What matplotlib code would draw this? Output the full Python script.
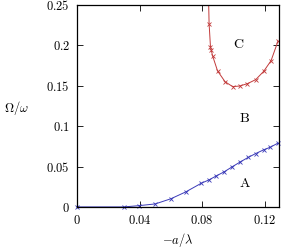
import matplotlib
matplotlib.use('Agg')
import matplotlib.pyplot as plt

plt.rcParams['mathtext.fontset'] = 'cm'
plt.rcParams['font.family'] = 'serif'
plt.rcParams['font.serif'] = ['DejaVu Serif']

# Branch A (lower, blue)
a_x = [0.0, 0.030, 0.0397, 0.050, 0.0600, 0.0695, 0.0795, 0.0844, 0.0891, 0.094,
       0.0991, 0.1044, 0.1093, 0.1142, 0.1193, 0.1236, 0.1284]
a_y = [0.0, 0.0, 0.0016, 0.0037, 0.0101, 0.0186, 0.0294, 0.0335, 0.0385, 0.0434,
       0.0496, 0.0558, 0.0612, 0.0661, 0.0707, 0.0740, 0.0790]

# Branch C (upper, red)
c_x = [0.0836, 0.0844, 0.0853, 0.0857, 0.0866, 0.0898, 0.0946, 0.0995, 0.104,
       0.1089, 0.1142, 0.1193, 0.124, 0.1284]
c_y = [0.30, 0.227, 0.1977, 0.1948, 0.1873, 0.1684, 0.155, 0.1489, 0.1497,
       0.1526, 0.1576, 0.1679, 0.1811, 0.2051]

xticks = [0, 0.04, 0.08, 0.12]
xtick_labels = ['$0$', '$0.04$', '$0.08$', '$0.12$']
yticks = [0, 0.05, 0.1, 0.15, 0.2, 0.25]
ytick_labels = ['$0$', '$0.05$', '$0.1$', '$0.15$', '$0.2$', '$0.25$']

fig = plt.figure(figsize=(2.82, 2.49), dpi=100)
ax = fig.add_axes([0.273, 0.169, 0.716, 0.811])

ax.plot(a_x, a_y, color='#3a3ab8', lw=0.7, marker='x', ms=3.5, mew=0.6, clip_on=False)
ax.plot(c_x, c_y, color='#c23a3a', lw=0.7, marker='x', ms=3.5, mew=0.6)

ax.set_xlim(0, 0.129)
ax.set_ylim(0, 0.25)
ax.set_xticks(xticks)
ax.set_xticklabels(xtick_labels)
ax.set_yticks(yticks)
ax.set_yticklabels(ytick_labels)
ax.tick_params(direction='in', length=4, width=0.6, top=True, right=True,
               labelsize=9, pad=5)
for s in ax.spines.values():
    s.set_linewidth(0.9)

ax.text(0.1034, 0.2022, '$\\mathrm{C}$', fontsize=10, ha='center', va='center')
ax.text(0.1072, 0.110, '$\\mathrm{B}$', fontsize=10, ha='center', va='center')
ax.text(0.1072, 0.0298, '$\\mathrm{A}$', fontsize=10, ha='center', va='center')

ax.set_xlabel('$-a/\\lambda$', fontsize=9, labelpad=3)
ax.set_ylabel('$\\Omega/\\omega$', fontsize=9, rotation=0, ha='center', va='center')
ax.yaxis.set_label_coords(-0.30, 0.49)

fig.savefig('out.png', dpi=100)
